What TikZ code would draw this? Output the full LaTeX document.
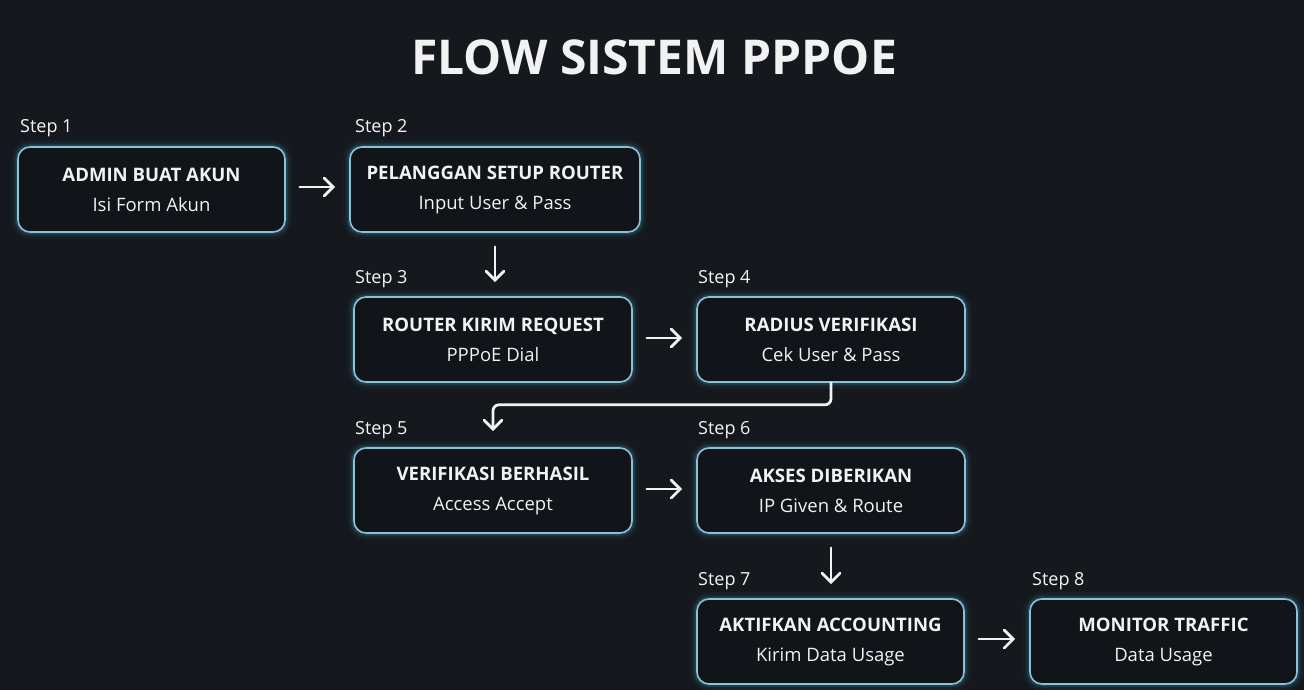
\documentclass[tikz,border=0pt]{standalone}
\usepackage{fontspec}
\setmainfont{Open Sans}
\usetikzlibrary{arrows.meta}
\definecolor{bg}{HTML}{15181C}
\definecolor{boxfill}{HTML}{111418}
\definecolor{edge}{HTML}{8CC2D6}
\definecolor{glow}{HTML}{3F9FC8}
\definecolor{ink}{HTML}{F2F2F2}
\newcommand{\bt}[2]{{\fontsize{18.6}{30}\selectfont\bfseries #1}\\{\fontsize{18.5}{30}\selectfont #2}}
\tikzset{
  stepbox/.style={draw=edge, line width=1.6pt, fill=boxfill, rounded corners=12pt,
    minimum height=85pt, align=center, text=ink, inner sep=0pt,
    font=\fontsize{19}{30}\selectfont,
    preaction={draw=glow, line width=14pt, draw opacity=0.05},
    preaction={draw=glow, line width=9pt, draw opacity=0.09},
    preaction={draw=glow, line width=5pt, draw opacity=0.2}},
  steplabel/.style={anchor=west, text=ink!88, inner sep=0pt, font=\fontsize{18}{20}\selectfont},
  flow/.style={draw=ink, line width=2.8pt, line cap=round,
    -{Straight Barb[length=9pt,width=18pt,line cap=round]}, shorten <=14pt, shorten >=14pt}
}
\begin{document}
\begin{tikzpicture}[x=1pt,y=-1pt]
\path[use as bounding box, fill=bg] (0,0) rectangle (1304,690);
\node[text=ink, font=\fontsize{48}{60}\selectfont\bfseries] (title) at (654,57) {FLOW SISTEM PPPOE};

\node[stepbox, minimum width=267pt] (s1) at (151.5,189.5) {\bt{ADMIN BUAT AKUN}{Isi Form Akun}};
\node[stepbox, minimum width=290pt] (s2) at (495,189.5) {\bt{PELANGGAN SETUP ROUTER}{Input User \& Pass}};
\node[stepbox, minimum width=278pt] (s3) at (493,339.5) {\bt{ROUTER KIRIM REQUEST}{PPPoE Dial}};
\node[stepbox, minimum width=268pt] (s4) at (831,339.5) {\bt{RADIUS VERIFIKASI}{Cek User \& Pass}};
\node[stepbox, minimum width=278pt] (s5) at (493,490.5) {\bt{VERIFIKASI BERHASIL}{Access Accept}};
\node[stepbox, minimum width=268pt] (s6) at (831,490.5) {\bt{AKSES DIBERIKAN}{IP Given \& Route}};
\node[stepbox, minimum width=267pt] (s7) at (830.5,641.5) {\bt{AKTIFKAN ACCOUNTING}{Kirim Data Usage}};
\node[stepbox, minimum width=267pt] (s8) at (1163.5,641.5) {\bt{MONITOR TRAFFIC}{Data Usage}};

\node[steplabel] (l1) at (20,128) {Step 1};
\node[steplabel] (l2) at (355,128) {Step 2};
\node[steplabel] (l3) at (355,279) {Step 3};
\node[steplabel] (l4) at (698,279) {Step 4};
\node[steplabel] (l5) at (355,430) {Step 5};
\node[steplabel] (l6) at (698,430) {Step 6};
\node[steplabel] (l7) at (698,581) {Step 7};
\node[steplabel] (l8) at (1032,581) {Step 8};

\draw[flow] (s1.east |- 0,187) -- (s2.west |- 0,187);
\draw[flow] (s2.south) -- (s2.south |- s3.north);
\draw[flow] (s3.east |- 0,338) -- (s4.west |- 0,338);
\draw[flow, shorten <=0pt, shorten >=16pt, rounded corners=6pt] (s4.south) -- ++(0,22) -| (s5.north);
\draw[flow] (s5.east |- 0,489) -- (s6.west |- 0,489);
\draw[flow] (s6.south) -- (s6.south |- s7.north);
\draw[flow] (s7.east |- 0,639) -- (s8.west |- 0,639);
\end{tikzpicture}
\end{document}
